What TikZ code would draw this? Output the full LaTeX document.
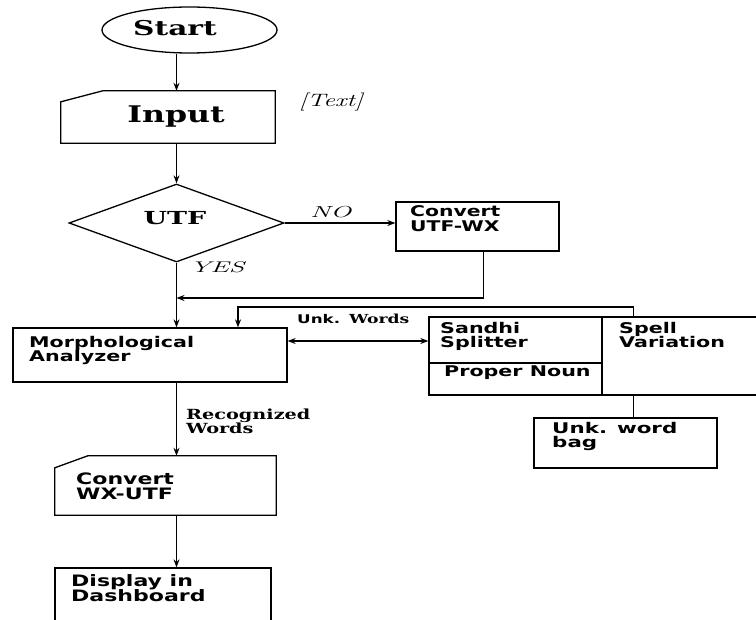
\documentclass[tikz,border=0pt]{standalone}
\usepackage{fontspec}
\usepackage{graphicx}
\usetikzlibrary{shapes.geometric,arrows.meta,calc}
\newfontfamily\dvs{DejaVu Sans}
\newfontfamily\dvserif{DejaVu Serif}
\newcommand\twol[2]{\vtop{\hbox{#1}\hbox{#2}}}
\newcommand\wx[2]{\scalebox{#1}[1]{#2}}
\begin{document}
\begin{tikzpicture}[x=1bp,y=-1bp,
  outl/.style={draw, line width=1.3bp, inner sep=0pt},
  boxn/.style={outl, rectangle},
  ghost/.style={rectangle, inner sep=0pt},
  ln/.style={line width=1.2bp},
  arr/.style={line width=1.2bp, -{Stealth[length=8bp,width=6bp]}},
  darr/.style={line width=1.2bp, {Stealth[length=8bp,width=6bp]}-{Stealth[length=8bp,width=6bp]}},
  stxt/.style={anchor=base west, inner sep=0pt, font=\dvs\bfseries\fontsize{14.8}{14.5}\selectfont},
  btxt/.style={anchor=base west, inner sep=0pt, font=\dvs\bfseries\fontsize{15.8}{16}\selectfont},
  rtxt/.style={anchor=base, inner sep=0pt},
  itxt/.style={anchor=base west, inner sep=0pt}]
\useasboundingbox (0,0) rectangle (756,620);
\fill[white] (0,0) rectangle (756,620);
\coordinate (sp) at (176.5,0);
% shapes
\node[outl, ellipse, minimum width=175bp, minimum height=46bp] (start) at (189.5,30) {};
\node[ghost, minimum width=214bp, minimum height=52bp] (input) at (168,117) {};
\draw[line width=1.3bp] ($(input.north west)+(0,11)$) -- ($(input.north west)+(42,0)$) -- (input.north east) -- (input.south east) -- (input.south west) -- cycle;
\node[outl, diamond, minimum width=215bp, minimum height=78bp] (diam) at (176.5,223) {};
\node[boxn, minimum width=163bp, minimum height=49bp] (utfwx) at (477.5,226.5) {};
\node[boxn, minimum width=274bp, minimum height=54bp] (morph) at (150,355) {};
\node[boxn, minimum width=173bp, minimum height=78bp] (sandhi) at (515.5,356) {};
\draw[line width=1.3bp] ($(sandhi.west)+(0,7)$) -- ($(sandhi.east)+(0,7)$);
\node[boxn, minimum width=158bp, minimum height=78bp] (spell) at (681,356) {};
\node[boxn, minimum width=183bp, minimum height=50bp] (bag) at (625.5,443) {};
\node[ghost, minimum width=221bp, minimum height=59bp] (wxutf) at (165.5,485.5) {};
\draw[line width=1.3bp] ($(wxutf.north west)+(0,12)$) -- ($(wxutf.north west)+(33,0)$) -- (wxutf.north east) -- (wxutf.south east) -- (wxutf.south west) -- cycle;
\node[boxn, minimum width=216bp, minimum height=64bp] (display) at (163,600) {};
% texts
\node[rtxt, font=\dvserif\bfseries\fontsize{20.5}{24}\selectfont] (tstart) at (175,36) {\wx{1.45}{Start}};
\node[rtxt, font=\dvserif\bfseries\fontsize{23}{26}\selectfont] (tinput) at (176,123) {\wx{1.38}{Input}};
\node[itxt, font=\itshape\fontsize{18}{20}\selectfont] (ttext) at (299,107) {\wx{1.45}{[Text]}};
\node[rtxt, font=\dvserif\bfseries\fontsize{18}{20}\selectfont] (tutf) at (175,225) {\wx{1.5}{UTF}};
\node[itxt, font=\itshape\fontsize{16}{18}\selectfont] (tno) at (310,218) {\wx{1.74}{NO}};
\node[itxt, font=\itshape\fontsize{15.5}{18}\selectfont] (tyes) at (190,272) {\wx{1.8}{YES}};
\node[stxt] (tutfwx) at (410,217) {\wx{1.38}{\twol{Convert}{UTF-WX}}};
\node[stxt, font=\dvs\bfseries\fontsize{14.8}{15}\selectfont] (tmorph) at (29,347) {\wx{1.4}{\twol{Morphological}{Analyzer}}};
\node[itxt] (tunk) at (297,323) {{\dvs\bfseries\fontsize{12}{14}\selectfont\wx{1.4}{Unk.}}\hspace{9bp}{\dvserif\bfseries\fontsize{12.5}{14}\selectfont\wx{1.38}{Words}}};
\node[stxt] (tsandhi) at (440,333) {\wx{1.4}{\twol{Sandhi}{Splitter}}};
\node[stxt] (tproper) at (444,376) {\wx{1.4}{Proper Noun}};
\node[stxt] (tspell) at (619,333) {\wx{1.4}{\twol{Spell}{Variation}}};
\node[stxt, font=\dvs\bfseries\fontsize{14.8}{15}\selectfont] (tbag) at (552,433) {\wx{1.45}{\twol{Unk. word}{bag}}};
\node[itxt, font=\dvserif\bfseries\fontsize{14}{15}\selectfont] (trec) at (186,419) {\wx{1.38}{\twol{Recognized}{Words}}};
\node[btxt] (twxutf) at (76,484) {\wx{1.4}{\twol{Convert}{WX-UTF}}};
\node[btxt] (tdisp) at (71,586) {\wx{1.4}{\twol{Display in}{Dashboard}}};
% connectors
\draw[arr] (start.south -| sp) -- (input.north -| sp);
\draw[arr] (input.south -| sp) -- (diam.north);
\draw[arr] (diam.east) -- (diam.east -| utfwx.west);
\coordinate (j1) at (176.5,298);
\coordinate (uo) at ($(utfwx.south west)+(88,0)$);
\draw[arr] (uo) |- (j1);
\draw[arr] (diam.south) -- (diam.south |- morph.north);
\coordinate (j2) at (238,307);
\coordinate (sn) at ($(spell.north west)+(32,0)$);
\coordinate (sv) at ($(spell.south west)+(32,0)$);
\draw[arr] (sn) |- (j2) -- (j2 |- morph.north);
\coordinate (yu) at (0,341);
\draw[darr] (morph.east |- yu) -- (sandhi.west |- yu);
\draw[ln] (sv) -- (sv |- bag.north);
\draw[arr] (morph.south -| sp) -- (wxutf.north -| sp);
\draw[arr] (wxutf.south -| sp) -- (display.north -| sp);
\end{tikzpicture}
\end{document}
